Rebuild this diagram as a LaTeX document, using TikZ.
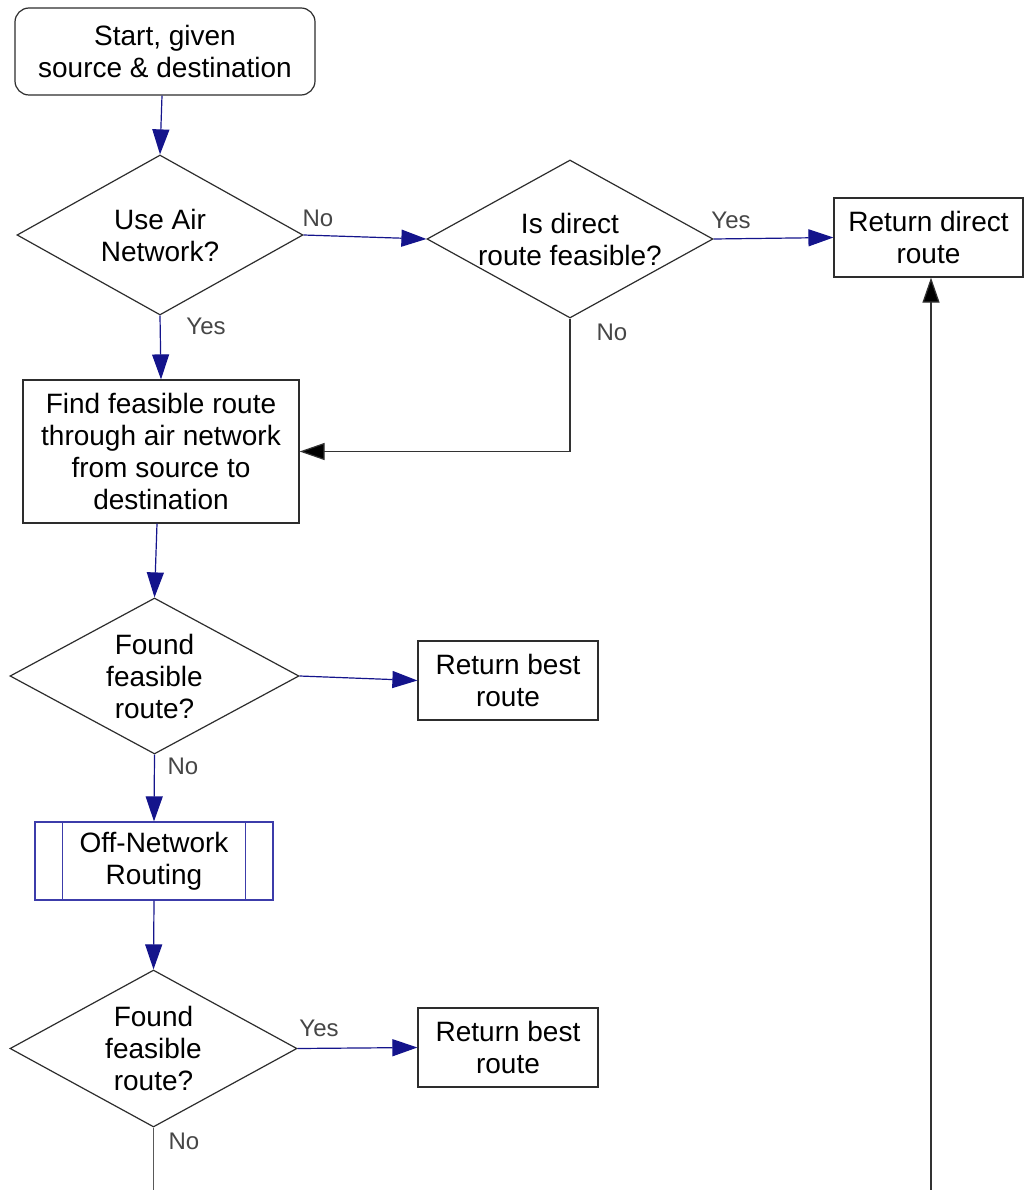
\documentclass[tikz,border=0pt]{standalone}
\usepackage{fontspec}
\setmainfont{Liberation Sans}
\usetikzlibrary{shapes.geometric,arrows.meta}
\definecolor{flowline}{RGB}{20,20,140}
\definecolor{frame}{RGB}{45,45,45}
\definecolor{subframe}{RGB}{60,60,170}
\definecolor{tagtext}{RGB}{70,70,70}
\begin{document}
\begin{tikzpicture}[x=1pt,y=-1pt,
  txt/.style={align=center, font=\fontsize{28}{32}\selectfont, text=black},
  box/.style={draw=frame, line width=1.2pt, fill=white, inner sep=0pt, txt},
  startbox/.style={box, rounded corners=14pt},
  subbox/.style={box, draw=subframe},
  decision/.style={diamond, draw=frame, line width=1.2pt, fill=white, inner sep=0pt},
  tag/.style={text=tagtext, inner sep=0pt, font=\fontsize{24}{26}\selectfont},
  flow/.style={draw=flowline, line width=1.2pt, -{Triangle[length=25pt,width=17pt]}},
  back/.style={draw=black!80, line width=1.2pt, -{Triangle[length=25pt,width=17pt,fill=black]}},
  plain/.style={draw=black!65, line width=1.2pt}
]
\fill[white] (0,0) rectangle (1024,1190);
\useasboundingbox (0,0) rectangle (1024,1190);

% nodes
\node[startbox, minimum width=300pt, minimum height=87pt] (start) at (165,51.5)
  {Start, given\\source \& destination};
\node[decision, minimum width=286pt, minimum height=160pt,
  label={[txt]center:Use Air\\Network?}] (d1) at (160,235) {};
\node[decision, minimum width=286pt, minimum height=158pt,
  label={[txt]center:Is direct\\route feasible?}] (d2) at (570,239) {};
\node[box, minimum width=189pt, minimum height=79pt] (rd) at (928.5,237.5)
  {Return direct\\route};
\node[box, minimum width=276pt, minimum height=143pt] (find) at (161,451.5)
  {Find feasible route\\through air network\\from source to\\destination};
\node[decision, minimum width=289pt, minimum height=156pt,
  label={[txt]center:Found\\feasible\\route?}] (d3) at (154.5,676) {};
\node[box, minimum width=180pt, minimum height=79pt] (rb1) at (508,680.5)
  {Return best\\route};
\node[subbox, minimum width=238pt, minimum height=78pt] (off) at (154,861)
  {Off-Network\\Routing};
\draw[subframe, line width=1.2pt] ([xshift=28pt]off.north west) -- ([xshift=28pt]off.south west);
\draw[subframe, line width=1.2pt] ([xshift=-28pt]off.north east) -- ([xshift=-28pt]off.south east);
\node[decision, minimum width=287pt, minimum height=157pt,
  label={[txt]center:Found\\feasible\\route?}] (d4) at (153.5,1048.5) {};
\node[box, minimum width=180pt, minimum height=79pt] (rb2) at (508,1047.5)
  {Return best\\route};

\coordinate (endL) at (153.5,1190);
\coordinate (endR) at (931,1190);

% connectors
\draw[flow] ([xshift=-3pt]start.south) -- (d1.north);
\draw[flow] (d1.east) -- (d2.west);
\draw[flow] (d2.east) -- (rd.west);
\draw[back] (d2.south) |- (find.east);
\draw[flow] (d1.south) -- (find.north);
\draw[flow] ([xshift=-4pt]find.south) -- (d3.north);
\draw[flow] (d3.east) -- (rb1.west);
\draw[flow] (d3.south) -- (off.north);
\draw[flow] (off.south) -- (d4.north);
\draw[flow] (d4.east) -- (rb2.west);
\draw[plain] (d4.south) -- (endL);
\draw[back] (endR) -- (endR |- rd.south);

% branch labels
\node[tag] (n1) at (318,218) {No};
\node[tag] (y1) at (731,220) {Yes};
\node[tag] (y2) at (206,326) {Yes};
\node[tag] (n2) at (612,332) {No};
\node[tag] (n3) at (183,766) {No};
\node[tag] (y3) at (319,1028) {Yes};
\node[tag] (n4) at (184,1141) {No};
\end{tikzpicture}
\end{document}
